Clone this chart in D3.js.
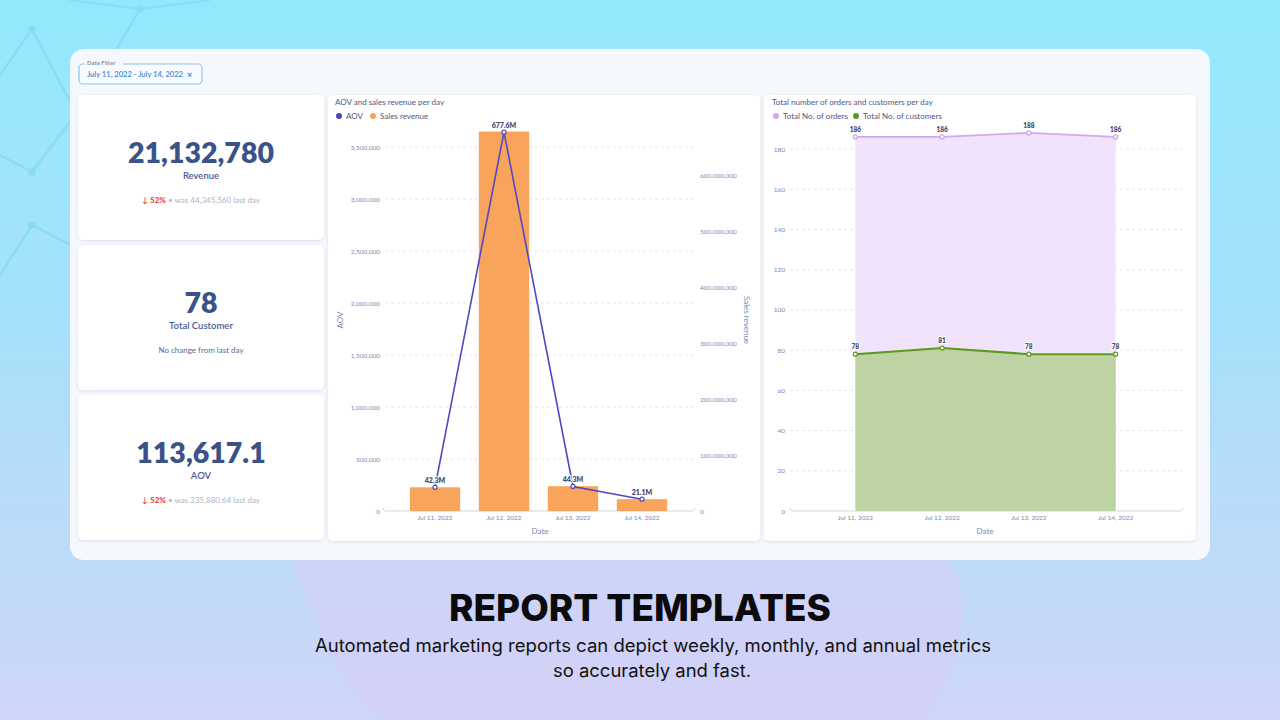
<!DOCTYPE html>
<html><head><meta charset="utf-8">
<script src="https://cdn.jsdelivr.net/npm/d3@7"></script>
<style>
html,body{margin:0;padding:0;width:1280px;height:720px;overflow:hidden;}
svg{display:block;font-family:Lato,"Open Sans",sans-serif;}
</style></head>
<body><svg id="c" width="1280" height="720"></svg>
<script>
// ---------- data ----------
const dates = ["Jul 11, 2022", "Jul 12, 2022", "Jul 13, 2022", "Jul 14, 2022"];
const salesRevenue = [42.3e6, 677.6e6, 44.3e6, 21.1e6];
const aov = [227419, 3643011, 235880.64, 113617.1];
const aovTicks = [0, 500000, 1000000, 1500000, 2000000, 2500000, 3000000, 3500000];
const revenueTicks = [0, 100e6, 200e6, 300e6, 400e6, 500e6, 600e6];
const totalOrders = [186, 186, 188, 186];
const totalCustomers = [78, 81, 78, 78];
const countTicks = [0, 20, 40, 60, 80, 100, 120, 140, 160, 180];
const kpiValues = ["21,132,780", "78", "113,617.1"];
const kpiLabels = ["Revenue", "Total Customer", "AOV"];
const kpiChange = ["52%", null, "52%"];
const kpiWas = ["44,345,560", null, "235,880.64"];

const svg = d3.select("#c");
const defs = svg.append("defs");

// background
const bg = defs.append("linearGradient").attr("id","bg").attr("x1",0).attr("y1",0).attr("x2",0).attr("y2",1);
bg.append("stop").attr("offset","0%").attr("stop-color","#93e9fc");
bg.append("stop").attr("offset","45%").attr("stop-color","#a6e1fb");
bg.append("stop").attr("offset","100%").attr("stop-color","#cfd6f8");
svg.append("rect").attr("width",1280).attr("height",720).attr("fill","url(#bg)");

const sh = defs.append("filter").attr("id","sh").attr("x","-10%").attr("y","-10%").attr("width","120%").attr("height","120%");
sh.append("feDropShadow").attr("dx",0).attr("dy",1).attr("stdDeviation",1.5).attr("flood-color","#8a9ab8").attr("flood-opacity",0.25);

// decorative lines top-left
const deco = svg.append("g").attr("stroke","#80d8f3").attr("stroke-width",2.5).attr("fill","none").attr("opacity",0.6);
[[[0,75],[32,29],[90,140]],[[70,0],[140,9],[210,0]],[[140,9],[110,60]],[[0,155],[32,172],[75,115]],[[0,275],[32,225],[80,250]]].forEach(p=>{
  deco.append("path").attr("d",d3.line()(p));
});
svg.append("g").attr("fill","#80d8f3").attr("opacity",0.6).selectAll("circle")
  .data([[32,29],[140,9],[32,172],[32,225]]).join("circle").attr("cx",d=>d[0]).attr("cy",d=>d[1]).attr("r",4);

// purple blob
svg.append("path").attr("d","M292,560 C320,640 345,690 380,720 L925,720 C960,660 975,610 950,560 Z")
  .attr("fill","#d8cdf7").attr("opacity",0.55);

// main panel
svg.append("rect").attr("x",70).attr("y",49).attr("width",1140).attr("height",511).attr("rx",14).attr("fill","#f5f8fc");

// date filter
svg.append("rect").attr("x",79).attr("y",64).attr("width",123).attr("height",20).attr("rx",4)
  .attr("fill","#f8fbff").attr("stroke","#90c6f2").attr("stroke-width",1.2);
svg.append("rect").attr("x",85).attr("y",60).attr("width",38).attr("height",6).attr("fill","#f5f8fc");
svg.append("text").attr("x",87).attr("y",65).attr("font-size",6).attr("fill","#8f97a8").attr("font-weight",700).text("Date Filter");
svg.append("text").attr("x",87).attr("y",77).attr("font-size",7.5).attr("fill","#3b8ad6").attr("font-weight",600)
  .attr("textLength",96).attr("lengthAdjust","spacingAndGlyphs").text("July 11, 2022 - July 14, 2022");
svg.append("text").attr("x",187).attr("y",77.5).attr("font-size",9).attr("fill","#3b8ad6").attr("font-weight",700).text("×");

// KPI cards
const numColor = "#3a5287";
const kpiY = [95, 245, 395];
kpiY.forEach((y0,i)=>{
  svg.append("rect").attr("x",78).attr("y",y0).attr("width",246).attr("height",145).attr("rx",5).attr("fill","#fff").attr("filter","url(#sh)");
  svg.append("text").attr("x",201).attr("y",y0+68).attr("text-anchor","middle").attr("font-size",28.5).attr("font-weight",800)
    .attr("fill",numColor).text(kpiValues[i]);
  svg.append("text").attr("x",201).attr("y",y0+84).attr("text-anchor","middle").attr("font-size",9.5).attr("font-weight",600)
    .attr("fill","#4d5d8e").text(kpiLabels[i]);
  if (kpiChange[i]) {
    const t = svg.append("text").attr("x",201).attr("y",y0+108).attr("text-anchor","middle").attr("font-size",8);
    t.append("tspan").attr("fill","#ef5350").attr("font-weight",700).text("↓ ");
    t.append("tspan").attr("fill","#ef5350").attr("font-weight",800).text(kpiChange[i]);
    t.append("tspan").attr("fill","#aeb5c7").text(" • was " + kpiWas[i] + "  last day");
  } else {
    svg.append("text").attr("x",201).attr("y",y0+108).attr("text-anchor","middle").attr("font-size",8).attr("fill","#5a6894").text("No change from last day");
  }
});

const axisColor = "#7d88b6";
const titleColor = "#4d5884";
const gridColor = "#e3e6ee";

// ---------- middle chart ----------
svg.append("rect").attr("x",328).attr("y",95).attr("width",432).attr("height",446).attr("rx",5).attr("fill","#fff").attr("filter","url(#sh)");
svg.append("text").attr("x",335).attr("y",105).attr("font-size",8).attr("fill",titleColor).text("AOV and sales revenue per day");
svg.append("circle").attr("cx",339).attr("cy",116).attr("r",3).attr("fill","#4b43b8");
svg.append("text").attr("x",346).attr("y",119).attr("font-size",8).attr("fill",titleColor).text("AOV");
svg.append("circle").attr("cx",373).attr("cy",116).attr("r",3).attr("fill","#f8a35a");
svg.append("text").attr("x",380).attr("y",119).attr("font-size",8).attr("fill",titleColor).text("Sales revenue");

const xM = d3.scaleBand().domain(dates).range([400.5,676.5]).paddingInner(0.27).paddingOuter(0.135);
const yA = d3.scaleLinear().domain([0,3500000]).range([511,147]);
const yR = d3.scaleLinear().domain([0,600e6]).range([511,175]);

const gM = svg.append("g");
gM.selectAll("line.grid").data(aovTicks.filter(d=>d>0)).join("line")
  .attr("x1",385).attr("x2",695).attr("y1",d=>yA(d)).attr("y2",d=>yA(d))
  .attr("stroke",gridColor).attr("stroke-dasharray","3,3");

const axA = gM.append("g").attr("transform","translate(380,0)").call(d3.axisLeft(yA).tickValues(aovTicks).tickSize(0).tickPadding(0).tickFormat(d3.format(",")));
const axR = gM.append("g").attr("transform","translate(700,0)").call(d3.axisRight(yR).tickValues(revenueTicks).tickSize(0).tickPadding(0).tickFormat(d3.format(",")));
[axA,axR].forEach(a=>{a.select(".domain").remove(); a.selectAll("text").attr("font-size",6.5).attr("fill",axisColor).attr("font-family","Lato");});

// x axis baseline
gM.append("path").attr("d","M383,508 Q383,511 386,511 L692,511 Q695,511 695,508").attr("fill","none").attr("stroke","#d3d7e4").attr("stroke-width",1);

gM.selectAll("rect.bar").data(dates).join("rect")
  .attr("x",d=>xM(d)).attr("width",xM.bandwidth())
  .attr("y",(d,i)=>yR(salesRevenue[i])).attr("height",(d,i)=>511-yR(salesRevenue[i]))
  .attr("fill","#f8a45c");

const axXM = gM.append("g").attr("transform","translate(0,515)").call(d3.axisBottom(xM).tickSize(0).tickPadding(0));
axXM.select(".domain").remove();
axXM.selectAll("text").attr("font-size",6.5).attr("fill",axisColor).attr("font-family","Lato").attr("dy","0.71em");
gM.append("text").attr("x",540).attr("y",534).attr("text-anchor","middle").attr("font-size",8).attr("fill",axisColor).text("Date");
gM.append("text").attr("transform","translate(343,320) rotate(-90)").attr("text-anchor","middle").attr("font-size",8).attr("fill",axisColor).text("AOV");
gM.append("text").attr("transform","translate(744,320) rotate(90)").attr("text-anchor","middle").attr("font-size",8).attr("fill",axisColor).text("Sales revenue");

const cx = d=>xM(d)+xM.bandwidth()/2;
gM.append("path").datum(dates).attr("d",d3.line().x(cx).y((d,i)=>yA(aov[i])))
  .attr("fill","none").attr("stroke","#5149c0").attr("stroke-width",1.6);
gM.selectAll("circle.pt").data(dates).join("circle").attr("cx",cx).attr("cy",(d,i)=>yA(aov[i])).attr("r",2)
  .attr("fill","#fff").attr("stroke","#5149c0").attr("stroke-width",1.2);
gM.selectAll("text.lbl").data(dates).join("text")
  .attr("x",cx).attr("y",(d,i)=>yR(salesRevenue[i])-4).attr("text-anchor","middle")
  .attr("font-size",7).attr("font-weight",800).attr("fill","#4a4f78")
  .attr("stroke","#fff").attr("stroke-width",2).attr("paint-order","stroke")
  .text((d,i)=>(salesRevenue[i]/1e6).toFixed(1)+"M");

// ---------- right chart ----------
svg.append("rect").attr("x",764).attr("y",95).attr("width",432).attr("height",446).attr("rx",5).attr("fill","#fff").attr("filter","url(#sh)");
svg.append("text").attr("x",772).attr("y",105).attr("font-size",8).attr("fill",titleColor).text("Total number of orders and customers per day");
svg.append("circle").attr("cx",776).attr("cy",116).attr("r",3).attr("fill","#d3a8f0");
svg.append("text").attr("x",783).attr("y",119).attr("font-size",8).attr("fill",titleColor).text("Total No. of orders");
svg.append("circle").attr("cx",856).attr("cy",116).attr("r",3).attr("fill","#5a9a1c");
svg.append("text").attr("x",863).attr("y",119).attr("font-size",8).attr("fill",titleColor).text("Total No. of customers");

const xR = d3.scaleBand().domain(dates).range([812,1159]);
const yC = d3.scaleLinear().domain([0,180]).range([511,149]);
const gR = svg.append("g");
gR.selectAll("line.grid").data(countTicks.filter(d=>d>0)).join("line")
  .attr("x1",790).attr("x2",1183).attr("y1",d=>yC(d)).attr("y2",d=>yC(d))
  .attr("stroke",gridColor).attr("stroke-dasharray","3,3");
const axC = gR.append("g").attr("transform","translate(785,0)").call(d3.axisLeft(yC).tickValues(countTicks).tickSize(0).tickPadding(0));
axC.select(".domain").remove();
axC.selectAll("text").attr("font-size",6.5).attr("fill",axisColor).attr("font-family","Lato");
gR.append("path").attr("d","M790,508 Q790,511 793,511 L1180,511 Q1183,511 1183,508").attr("fill","none").attr("stroke","#d3d7e4");

const cxR = d=>xR(d)+xR.bandwidth()/2;
gR.append("path").datum(dates).attr("d",d3.area().x(cxR).y0(yC(0)).y1((d,i)=>yC(totalOrders[i])))
  .attr("fill","#f0e3fb");
gR.append("path").datum(dates).attr("d",d3.area().x(cxR).y0(yC(0)).y1((d,i)=>yC(totalCustomers[i])))
  .attr("fill","#bed3a3");
gR.append("path").datum(dates).attr("d",d3.line().x(cxR).y((d,i)=>yC(totalOrders[i])))
  .attr("fill","none").attr("stroke","#d0aaf0").attr("stroke-width",1.8);
gR.append("path").datum(dates).attr("d",d3.line().x(cxR).y((d,i)=>yC(totalCustomers[i])))
  .attr("fill","none").attr("stroke","#5b9a1c").attr("stroke-width",2);
gR.selectAll("circle.o").data(dates).join("circle").attr("cx",cxR).attr("cy",(d,i)=>yC(totalOrders[i])).attr("r",2)
  .attr("fill","#fff").attr("stroke","#c9a2ee").attr("stroke-width",1.2);
gR.selectAll("circle.c").data(dates).join("circle").attr("cx",cxR).attr("cy",(d,i)=>yC(totalCustomers[i])).attr("r",2)
  .attr("fill","#fff").attr("stroke","#5b9a1c").attr("stroke-width",1.2);
const lbl = (arr,cls)=>gR.selectAll("text."+cls).data(dates).join("text").attr("class",cls)
  .attr("x",cxR).attr("y",(d,i)=>yC(arr[i])-5).attr("text-anchor","middle")
  .attr("font-size",6.5).attr("font-weight",800).attr("fill","#4a4f78")
  .attr("stroke","#fff").attr("stroke-width",2).attr("paint-order","stroke").text((d,i)=>arr[i]);
lbl(totalOrders,"lo"); lbl(totalCustomers,"lc");

const axXR = gR.append("g").attr("transform","translate(0,515)").call(d3.axisBottom(xR).tickSize(0).tickPadding(0));
axXR.select(".domain").remove();
axXR.selectAll("text").attr("font-size",6.5).attr("fill",axisColor).attr("font-family","Lato").attr("dy","0.71em");
gR.append("text").attr("x",985).attr("y",534).attr("text-anchor","middle").attr("font-size",8).attr("fill",axisColor).text("Date");

// ---------- bottom text ----------
svg.append("text").attr("x",640).attr("y",621).attr("text-anchor","middle").attr("font-family","Inter, Roboto, sans-serif")
  .attr("font-size",37).attr("font-weight",800).attr("fill","#0b0b0f")
  .attr("textLength",382).attr("lengthAdjust","spacingAndGlyphs").text("REPORT TEMPLATES");
svg.append("text").attr("x",653).attr("y",652).attr("text-anchor","middle").attr("font-family","Inter, Roboto, sans-serif")
  .attr("font-size",18).attr("fill","#111")
  .attr("textLength",676).attr("lengthAdjust","spacingAndGlyphs").text("Automated marketing reports can depict weekly, monthly, and annual metrics");
svg.append("text").attr("x",652).attr("y",677).attr("text-anchor","middle").attr("font-family","Inter, Roboto, sans-serif")
  .attr("font-size",18).attr("fill","#111")
  .attr("textLength",198).attr("lengthAdjust","spacingAndGlyphs").text("so accurately and fast.");
</script></body></html>
